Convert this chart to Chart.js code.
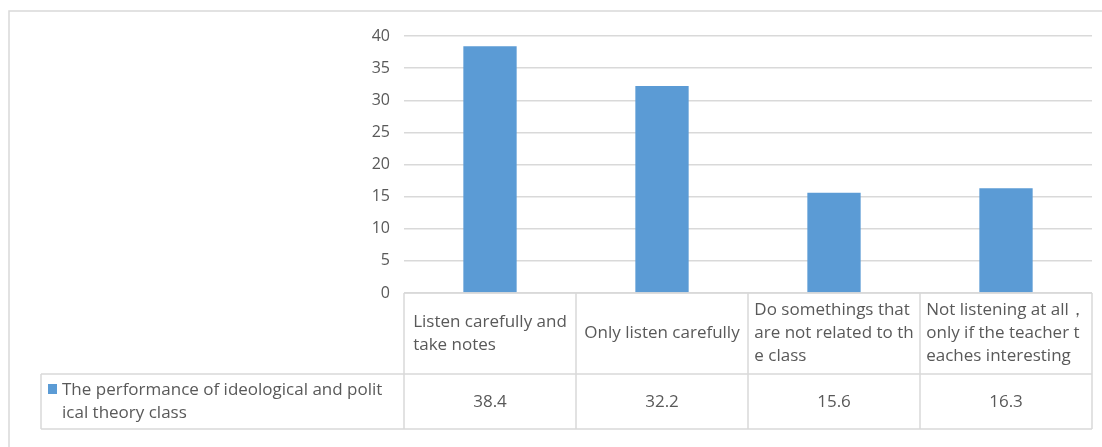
<!DOCTYPE html>
<html>
<head>
<meta charset="utf-8">
<script src="https://cdn.jsdelivr.net/npm/chart.js@4/dist/chart.umd.min.js"></script>
<style>
  html, body { margin: 0; padding: 0; background: #fff; }
  #wrap { width: 1102px; height: 447px; }
</style>
</head>
<body>
<div id="wrap"><canvas id="barChart" width="1102" height="447"></canvas></div>
<script>
// categories, already split the way the data table wraps them
const categories = [
    ['Listen carefully and', 'take notes'],
    ['Only listen carefully'],
    ['Do somethings that', 'are not related to th', 'e class'],
    ['Not listening at all\uff0c', 'only if the teacher t', 'eaches interesting']
];
const seriesName = ['The performance of ideological and polit', 'ical theory class'];
const values = [38.4, 32.2, 15.6, 16.3];
const yTicks = [0, 5, 10, 15, 20, 25, 30, 35, 40];

const FONT = '"Open Sans", Lato, sans-serif';
const TEXT = '#595959';
const LINE = '#D9D9D9';
const BLUE = '#5B9BD5';

// 資料表 + 外框
const dataTable = {
    id: 'dataTable',
    afterDraw(chart) {
        const ctx = chart.ctx;
        const x = chart.scales.x;
        const area = chart.chartArea;
        const half = (x.getPixelForValue(1) - x.getPixelForValue(0)) / 2;
        const top = area.bottom;
        const mid = top + 81;
        const bottom = mid + 55;
        const legendLeft = 41;
        const lineH = 23;

        ctx.save();
        ctx.strokeStyle = LINE;
        ctx.lineWidth = 1.5;

        // outer frame (only left/top visible)
        ctx.beginPath();
        ctx.moveTo(9, 460);
        ctx.lineTo(9, 11);
        ctx.lineTo(1110, 11);
        ctx.stroke();

        // table lines
        ctx.beginPath();
        ctx.moveTo(area.left, top); ctx.lineTo(area.right, top);
        ctx.moveTo(legendLeft, mid); ctx.lineTo(area.right, mid);
        ctx.moveTo(legendLeft, bottom); ctx.lineTo(area.right, bottom);
        ctx.moveTo(legendLeft, mid); ctx.lineTo(legendLeft, bottom);
        for (let i = 0; i <= values.length; i++) {
            const px = i < values.length ? x.getPixelForValue(i) - half : x.getPixelForValue(i - 1) + half;
            ctx.moveTo(px, top); ctx.lineTo(px, bottom);
        }
        ctx.stroke();

        ctx.fillStyle = TEXT;
        ctx.font = '17px ' + FONT;
        ctx.textBaseline = 'middle';

        // category cells
        const maxW = half * 2 - 4;
        categories.forEach((lines, i) => {
            const cx = x.getPixelForValue(i);
            const w = Math.min(maxW, Math.max(...lines.map(l => ctx.measureText(l).width)));
            const left = cx - w / 2;
            const cy = (top + mid) / 2 - (lines.length - 1) * lineH / 2;
            ctx.textAlign = 'left';
            lines.forEach((l, j) => ctx.fillText(l, left, cy + j * lineH, maxW));
        });

        // value cells
        ctx.textAlign = 'center';
        values.forEach((v, i) => {
            ctx.fillText(v.toFixed(1), x.getPixelForValue(i), (mid + bottom) / 2 + 1);
        });

        // legend cell
        ctx.fillStyle = BLUE;
        ctx.fillRect(48, 384, 9, 10);
        ctx.fillStyle = TEXT;
        ctx.textAlign = 'left';
        const ly = (mid + bottom) / 2 - lineH / 2;
        seriesName.forEach((l, j) => ctx.fillText(l, 62, ly + j * lineH, area.left - 64));
        ctx.restore();
    }
};

new Chart(document.getElementById('barChart'), {
    type: 'bar',
    data: {
        labels: categories.map(c => c.join(' ')),
        datasets: [{
            label: seriesName.join(''),
            data: values,
            backgroundColor: BLUE,
            borderWidth: 0,
            barPercentage: 0.31,
            categoryPercentage: 1
        }]
    },
    options: {
        responsive: false,
        animation: false,
        layout: { padding: { left: 354, right: 10, top: 36, bottom: 154 } },
        plugins: { legend: { display: false }, tooltip: { enabled: false } },
        scales: {
            x: { display: false },
            y: {
                min: 0,
                max: 40,
                afterFit(scale) { scale.width = 50; },
                afterBuildTicks(scale) { scale.ticks = yTicks.map(v => ({ value: v })); },
                border: { display: false },
                grid: { color: LINE, lineWidth: 1.5, drawTicks: false },
                ticks: { color: TEXT, padding: 14, font: { family: FONT, size: 16 } }
            }
        }
    },
    plugins: [dataTable]
});
</script>
</body>
</html>
